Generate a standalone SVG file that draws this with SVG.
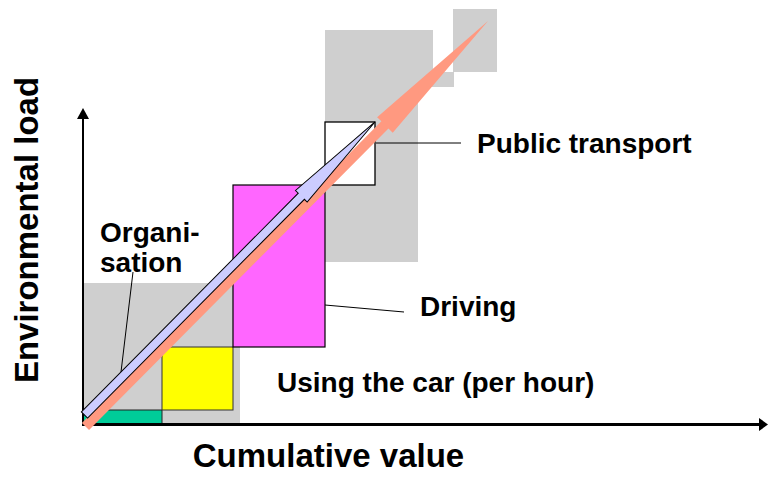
<svg xmlns="http://www.w3.org/2000/svg" width="768" height="483" viewBox="0 0 768 483">
<defs>
<style>
.lbl{font-family:"Liberation Sans",Arial,sans-serif;font-weight:bold;font-size:28px;fill:#000}
.ax{font-family:"Liberation Sans",Arial,sans-serif;font-weight:bold;font-size:33px;fill:#000}
.grey{fill:#CFCFCF;stroke:none}
.lead{stroke:#000;stroke-width:1;fill:none}
</style>
</defs>
<rect width="768" height="483" fill="#fff"/>
<g id="background-blocks">
<rect class="grey" x="83" y="283" width="157" height="142"/>
<polygon class="grey" points="325,30 433,30 433,72 454,72 454,87 418,87 418,262 325,262"/>
<rect class="grey" x="453" y="9" width="44" height="63"/>
</g>
<g id="organisation-block">
<rect x="83" y="410" width="79" height="15" fill="#00CC99" stroke="#222" stroke-width="1"/>
</g>
<g id="using-car-block">
<rect x="162" y="347" width="71" height="63" fill="#FFFF00" stroke="#333" stroke-width="1"/>
</g>
<g id="driving-block">
<rect x="233" y="185" width="92" height="162" fill="#FF66FF" stroke="#000" stroke-width="1.2"/>
</g>
<g id="public-transport-block">
<rect x="325" y="122" width="50" height="63" fill="#fff" stroke="#000" stroke-width="1.3"/>
</g>
<g id="axes">
<line x1="83" y1="425" x2="83" y2="117" stroke="#000" stroke-width="2"/>
<polygon points="83,108 77,119 89,119" fill="#000"/>
<line x1="82" y1="424.5" x2="760" y2="424.5" stroke="#000" stroke-width="3"/>
<polygon points="768,424.5 759,418 759,431" fill="#000"/>
</g>
<g id="connectors">
<line class="lead" x1="133" y1="272" x2="121" y2="372"/>
<line class="lead" x1="325" y1="305" x2="404" y2="312"/>
<line class="lead" x1="376" y1="143" x2="461" y2="143" stroke="#555"/>
<polygon id="orange-arrow" transform="translate(85.5,426.5) rotate(-45.21)" points="0,-5 425,-5 425,-11 571.3,0 425,11 425,5 0,5" fill="#FF9980"/>
<polygon id="blue-arrow" transform="translate(84.5,415) rotate(-45.25)" points="0,-4.35 308,-4.35 308,-8.2 412.6,0 308,8.2 308,4.35 0,4.35" fill="#CCCCFF" stroke="#000" stroke-width="1"/>
</g>
<g id="labels">
<text class="lbl" x="100" y="242">Organi-</text>
<text class="lbl" x="100" y="272">sation</text>
<text class="lbl" x="477" y="153">Public transport</text>
<text class="lbl" x="420" y="316">Driving</text>
<text class="lbl" x="277" y="392">Using the car (per hour)</text>
<text class="ax" x="328.5" y="467" text-anchor="middle">Cumulative value</text>
<text class="ax" transform="translate(37.5,230) rotate(-90)" text-anchor="middle">Environmental load</text>
</g>
</svg>
